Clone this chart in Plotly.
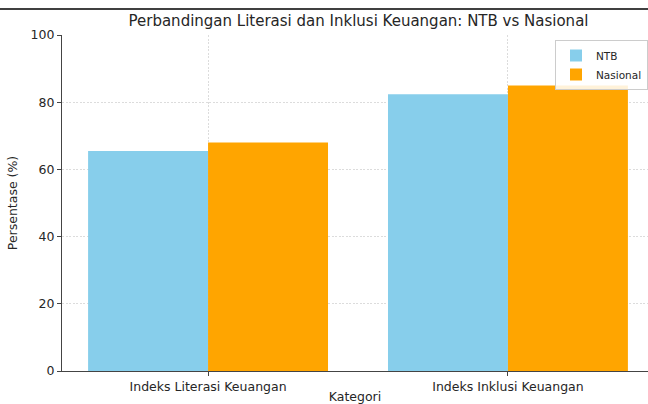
import plotly.graph_objects as go

categories = ["Indeks Literasi Keuangan", "Indeks Inklusi Keuangan"]
ntb_values = [65.5, 82.4]
nasional_values = [68.0, 85.0]
y_ticks = [0, 20, 40, 60, 80, 100]

font_family = "DejaVu Sans, Verdana, sans-serif"
txt = "#262626"

fig = go.Figure()
fig.add_trace(go.Bar(name="NTB", x=categories, y=ntb_values, marker_color="#87CEEB",
                     marker_line_width=0))
fig.add_trace(go.Bar(name="Nasional", x=categories, y=nasional_values, marker_color="#FFA500",
                     marker_line_width=0))

W, H = 648, 404
L, R, T, B = 62, 0, 35, 33
pw = W - L - R
ph = H - T - B

fig.update_layout(
    width=W, height=H,
    margin=dict(l=L, r=R, t=T, b=B, pad=0),
    paper_bgcolor="white", plot_bgcolor="white",
    barmode="group", bargap=0.2, bargroupgap=0,
    font=dict(family=font_family, color=txt, size=12),
    title=dict(text="Perbandingan Literasi dan Inklusi Keuangan: NTB vs Nasional",
               x=358.5 / W, xanchor="center", y=1 - 21 / H, yanchor="middle",
               font=dict(size=15, color=txt)),
    legend=dict(x=1, xanchor="right", y=(H - B - 40) / ph, yanchor="top",
                bgcolor="rgba(255,255,255,0.85)", bordercolor="#cccccc", borderwidth=1,
                font=dict(size=10.5), tracegroupgap=0, itemwidth=30),
    showlegend=True,
)
fig.update_xaxes(
    range=[-0.487, 1.467], showline=True, linecolor="#444444", linewidth=1.2,
    automargin=False,
    showgrid=True, gridcolor="#dcdcdc", griddash="2px,1.5px", gridwidth=0.8,
    ticks="outside", ticklen=4, tickcolor="#444444",
    tickfont=dict(size=12.5, color=txt),
    title=dict(text="Kategori", font=dict(size=12.5, color=txt), standoff=7),
)
fig.update_yaxes(
    range=[0, 100], tickvals=y_ticks, showline=True, linecolor="#444444", linewidth=1.2,
    automargin=False,
    showgrid=True, gridcolor="#dcdcdc", griddash="2px,1.5px", gridwidth=0.8,
    ticks="outside", ticklen=4, tickcolor="#444444", zeroline=False,
    tickfont=dict(size=12.5, color=txt),
    title=dict(text="Persentase (%)", font=dict(size=12.5, color=txt), standoff=10),
)
fig.add_shape(type="line", xref="paper", yref="paper", x0=-1, x1=2,
              y0=1 + 26 / ph, y1=1 + 26 / ph, line=dict(color="black", width=1.5))

fig.write_html("out.html", config={"displayModeBar": False},
               post_script="document.body.style.margin='0';document.body.style.overflow='hidden';")
